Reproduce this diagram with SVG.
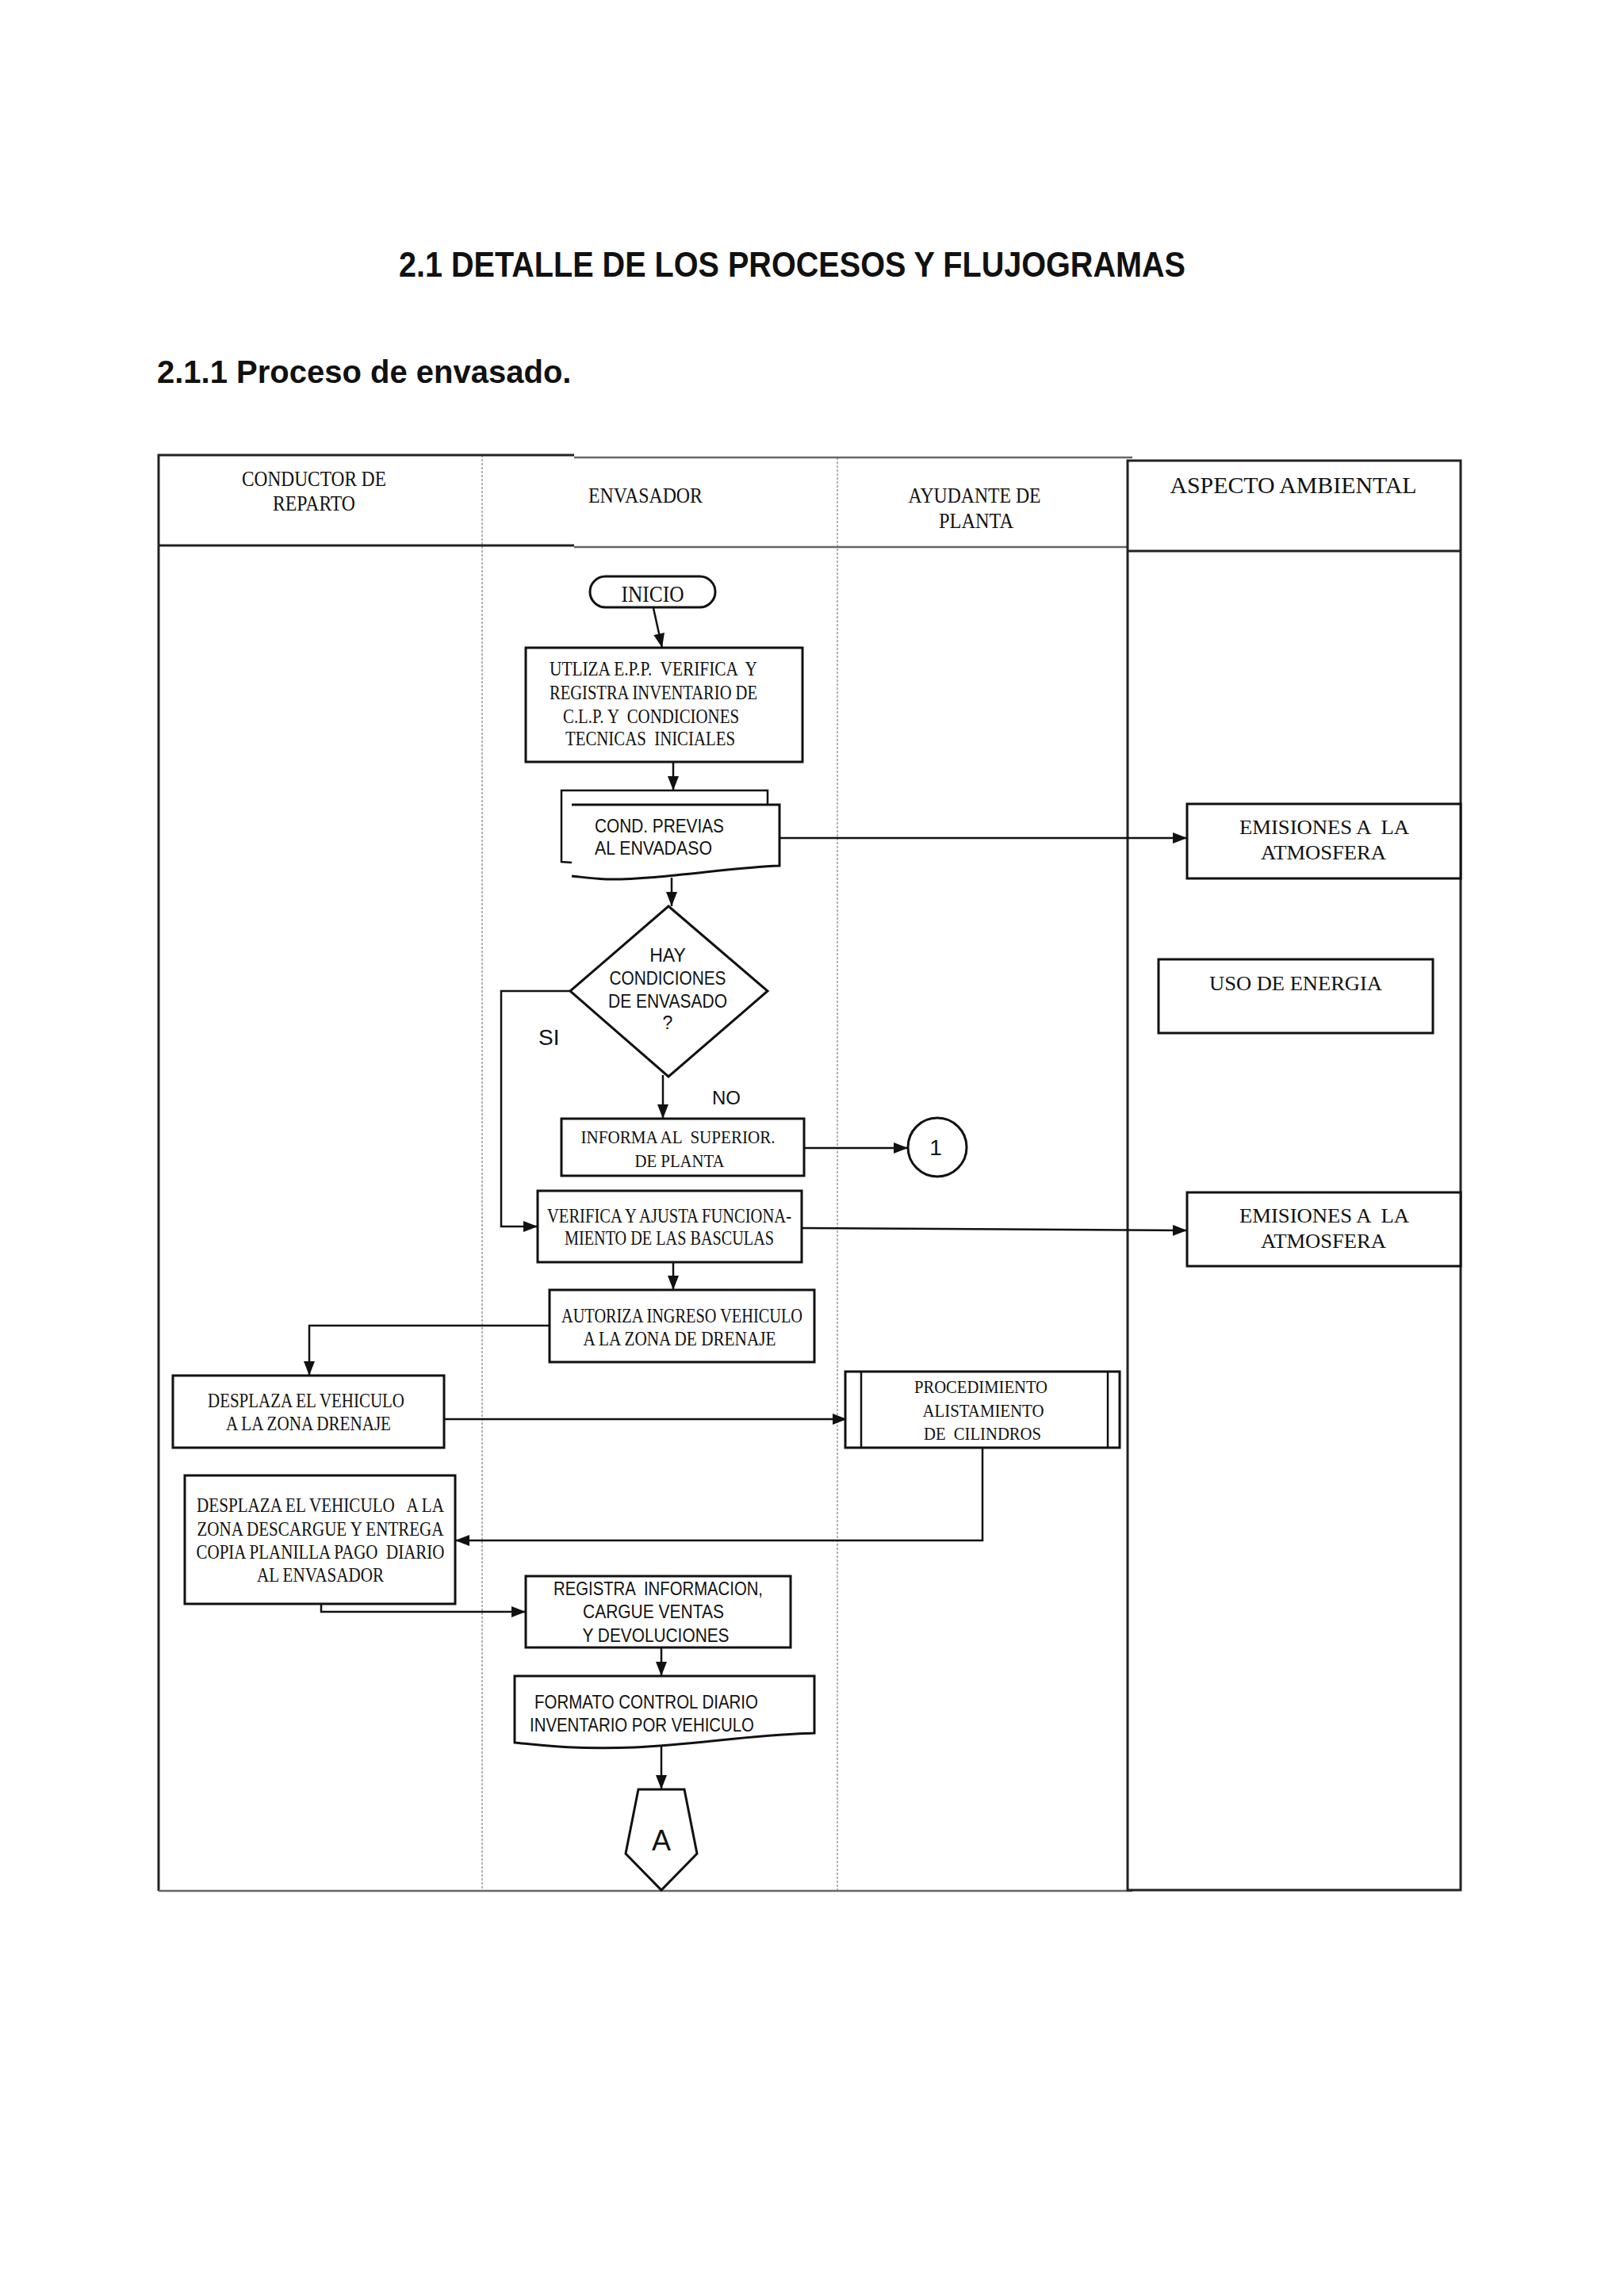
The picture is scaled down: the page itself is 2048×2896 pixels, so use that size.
<svg xmlns="http://www.w3.org/2000/svg" width="2048" height="2896" viewBox="0 0 2048 2896">
<style>
text{white-space:pre}
.bx{fill:#fff;stroke:#111;stroke-width:3}
.ln{fill:none;stroke:#111;stroke-width:2.5}
.br{fill:none;stroke:#222;stroke-width:3}
.gr{fill:none;stroke:#666;stroke-width:2.5}
.lane{stroke:#999;stroke-width:1.5;stroke-dasharray:3 2}
.s{font-family:"Liberation Serif","Times New Roman",serif;fill:#111}
.a{font-family:"Liberation Sans",Arial,sans-serif;fill:#111}
.c{text-anchor:middle}
</style>
<defs>
<marker id="ar" viewBox="0 0 18 14" refX="18" refY="7" markerWidth="18" markerHeight="14" markerUnits="userSpaceOnUse" orient="auto">
<path d="M0,0 L18,7 L0,14 z" fill="#111"/>
</marker>
</defs>
<rect width="2048" height="2896" fill="#fff"/>

<g id="titles">
<text class="a c" x="999" y="349" font-size="45" font-weight="bold" textLength="992" lengthAdjust="spacingAndGlyphs">2.1 DETALLE DE LOS PROCESOS Y FLUJOGRAMAS</text>
<text class="a" x="198" y="483" font-size="40" font-weight="bold">2.1.1 Proceso de envasado.</text>
</g>

<g id="lanes">
<line class="lane" x1="608" y1="574" x2="608" y2="2385"/>
<line class="lane" x1="1056" y1="577" x2="1056" y2="2385"/>
<path class="br" d="M200,2385 L200,574 L724,574"/>
<line class="gr" x1="724" y1="577" x2="1428" y2="577" stroke-width="2"/>
<line class="br" x1="200" y1="688" x2="724" y2="688"/>
<line class="gr" x1="724" y1="690" x2="1422" y2="690"/>
<line class="gr" x1="200" y1="2385" x2="1428" y2="2385"/>
<rect class="br" x="1422" y="581" width="420" height="1803"/>
<line class="br" x1="1422" y1="695" x2="1842" y2="695"/>
<text class="s c" x="396" y="613" font-size="27" textLength="182" lengthAdjust="spacingAndGlyphs">CONDUCTOR DE</text>
<text class="s c" x="396" y="644" font-size="27" textLength="104" lengthAdjust="spacingAndGlyphs">REPARTO</text>
<text class="s c" x="814" y="634" font-size="27" textLength="144" lengthAdjust="spacingAndGlyphs">ENVASADOR</text>
<text class="s c" x="1229" y="634" font-size="27" textLength="167" lengthAdjust="spacingAndGlyphs">AYUDANTE DE</text>
<text class="s c" x="1231" y="666" font-size="27" textLength="94" lengthAdjust="spacingAndGlyphs">PLANTA</text>
<text class="s c" x="1631" y="622" font-size="29" textLength="311" lengthAdjust="spacingAndGlyphs">ASPECTO AMBIENTAL</text>
</g>

<g id="connectors">
<line class="ln" x1="824" y1="767" x2="835" y2="817" marker-end="url(#ar)"/>
<line class="ln" x1="849" y1="961" x2="849" y2="997" marker-end="url(#ar)"/>
<line class="ln" x1="983" y1="1057" x2="1497" y2="1057" marker-end="url(#ar)"/>
<line class="ln" x1="847" y1="1107" x2="847" y2="1143" marker-end="url(#ar)"/>
<line class="ln" x1="836" y1="1356" x2="836" y2="1411" marker-end="url(#ar)"/>
<polyline class="ln" points="719,1250 632,1250 632,1547 678,1547" marker-end="url(#ar)"/>
<line class="ln" x1="1014" y1="1448" x2="1145" y2="1448" marker-end="url(#ar)"/>
<line class="ln" x1="1011" y1="1549" x2="1497" y2="1552" marker-end="url(#ar)"/>
<line class="ln" x1="849" y1="1592" x2="849" y2="1627" marker-end="url(#ar)"/>
<polyline class="ln" points="693,1672 390,1672 390,1735" marker-end="url(#ar)"/>
<line class="ln" x1="560" y1="1790" x2="1068" y2="1790" marker-end="url(#ar)"/>
<polyline class="ln" points="1239,1826 1239,1943 574,1943" marker-end="url(#ar)"/>
<polyline class="ln" points="405,2023 405,2033 663,2033" marker-end="url(#ar)"/>
<line class="ln" x1="834" y1="2078" x2="834" y2="2114" marker-end="url(#ar)"/>
<line class="ln" x1="834" y1="2203" x2="834" y2="2257" marker-end="url(#ar)"/>
<text class="a" x="679" y="1318" font-size="28">SI</text>
<text class="a" x="898" y="1393" font-size="24">NO</text>
</g>

<g id="n-inicio">
<rect class="bx" x="744" y="727" width="158" height="39" rx="19.5" stroke-width="2.5"/>
<text class="s c" x="823" y="759" font-size="30" textLength="79" lengthAdjust="spacingAndGlyphs">INICIO</text>
</g>

<g id="n-utiliza">
<rect class="bx" x="663" y="817" width="349" height="144"/>
<text class="s" x="693" y="852" font-size="25" textLength="262" lengthAdjust="spacingAndGlyphs">UTLIZA E.P.P.  VERIFICA  Y</text>
<text class="s" x="693" y="882" font-size="25" textLength="262" lengthAdjust="spacingAndGlyphs">REGISTRA INVENTARIO DE</text>
<text class="s" x="710" y="912" font-size="25" textLength="222" lengthAdjust="spacingAndGlyphs">C.L.P. Y  CONDICIONES</text>
<text class="s" x="713" y="940" font-size="25" textLength="214" lengthAdjust="spacingAndGlyphs">TECNICAS  INICIALES</text>
</g>

<g id="n-cond">
<path class="ln" d="M721,1088 L708,1087 L708,997 L968,997 L968,1015"/>
<path class="bx" d="M721,1015 L983,1015 L983,1092 C920,1094 830,1110 765,1109 C745,1108 732,1106 721,1105" stroke-width="2.5"/>
<text class="a" x="750" y="1050" font-size="24" textLength="163" lengthAdjust="spacingAndGlyphs">COND. PREVIAS</text>
<text class="a" x="750" y="1078" font-size="24" textLength="148" lengthAdjust="spacingAndGlyphs">AL ENVADASO</text>
</g>

<g id="n-hay">
<polygon class="bx" points="843,1143 968,1250 843,1358 719,1250" stroke-width="2.5"/>
<text class="a c" x="842" y="1213" font-size="23">HAY</text>
<text class="a c" x="842" y="1242" font-size="23" textLength="147" lengthAdjust="spacingAndGlyphs">CONDICIONES</text>
<text class="a c" x="842" y="1271" font-size="23" textLength="150" lengthAdjust="spacingAndGlyphs">DE ENVASADO</text>
<text class="a c" x="842" y="1298" font-size="23">?</text>
</g>

<g id="n-informa">
<rect class="bx" x="708" y="1411" width="306" height="72"/>
<text class="s c" x="855" y="1442" font-size="24" textLength="245" lengthAdjust="spacingAndGlyphs">INFORMA AL  SUPERIOR.</text>
<text class="s c" x="857" y="1472" font-size="24" textLength="113" lengthAdjust="spacingAndGlyphs">DE PLANTA</text>
</g>

<g id="n-conector1">
<circle class="bx" cx="1182" cy="1447" r="37" stroke-width="2.5"/>
<text class="a c" x="1180" y="1457" font-size="28">1</text>
</g>

<g id="n-verifica">
<rect class="bx" x="678" y="1502" width="333" height="90"/>
<text class="s c" x="844" y="1542" font-size="26" textLength="308" lengthAdjust="spacingAndGlyphs">VERIFICA Y AJUSTA FUNCIONA-</text>
<text class="s c" x="844" y="1570" font-size="26" textLength="264" lengthAdjust="spacingAndGlyphs">MIENTO DE LAS BASCULAS</text>
</g>

<g id="n-autoriza">
<rect class="bx" x="693" y="1627" width="334" height="91"/>
<text class="s c" x="860" y="1668" font-size="26" textLength="304" lengthAdjust="spacingAndGlyphs">AUTORIZA INGRESO VEHICULO</text>
<text class="s c" x="857" y="1697" font-size="26" textLength="243" lengthAdjust="spacingAndGlyphs">A LA ZONA DE DRENAJE</text>
</g>

<g id="n-desplaza1">
<rect class="bx" x="218" y="1735" width="342" height="91"/>
<text class="s c" x="386" y="1775" font-size="26" textLength="248" lengthAdjust="spacingAndGlyphs">DESPLAZA EL VEHICULO</text>
<text class="s c" x="389" y="1804" font-size="26" textLength="208" lengthAdjust="spacingAndGlyphs">A LA ZONA DRENAJE</text>
</g>

<g id="n-procedimiento">
<rect class="bx" x="1066" y="1730" width="346" height="96" stroke-width="2.5"/>
<line class="ln" x1="1086" y1="1730" x2="1086" y2="1826"/>
<line class="ln" x1="1397" y1="1730" x2="1397" y2="1826"/>
<text class="s c" x="1237" y="1757" font-size="23" textLength="168" lengthAdjust="spacingAndGlyphs">PROCEDIMIENTO</text>
<text class="s c" x="1240" y="1787" font-size="23" textLength="153" lengthAdjust="spacingAndGlyphs">ALISTAMIENTO</text>
<text class="s c" x="1239" y="1816" font-size="23" textLength="148" lengthAdjust="spacingAndGlyphs">DE  CILINDROS</text>
</g>

<g id="n-desplaza2">
<rect class="bx" x="233" y="1861" width="341" height="162"/>
<text class="s c" x="404" y="1907" font-size="26" textLength="312" lengthAdjust="spacingAndGlyphs">DESPLAZA EL VEHICULO   A LA</text>
<text class="s c" x="404" y="1937" font-size="26" textLength="311" lengthAdjust="spacingAndGlyphs">ZONA DESCARGUE Y ENTREGA</text>
<text class="s c" x="404" y="1966" font-size="26" textLength="313" lengthAdjust="spacingAndGlyphs">COPIA PLANILLA PAGO  DIARIO</text>
<text class="s c" x="404" y="1995" font-size="26" textLength="160" lengthAdjust="spacingAndGlyphs">AL ENVASADOR</text>
</g>

<g id="n-registra">
<rect class="bx" x="663" y="1988" width="334" height="90"/>
<text class="a c" x="830" y="2012" font-size="24" textLength="264" lengthAdjust="spacingAndGlyphs">REGISTRA  INFORMACION,</text>
<text class="a c" x="824" y="2041" font-size="24" textLength="178" lengthAdjust="spacingAndGlyphs">CARGUE VENTAS</text>
<text class="a c" x="827" y="2071" font-size="24" textLength="185" lengthAdjust="spacingAndGlyphs">Y DEVOLUCIONES</text>
</g>

<g id="n-formato">
<path class="bx" d="M649,2198 L649,2114 L1027,2114 L1027,2186 C950,2188 880,2200 800,2204 C720,2207 680,2201 649,2198 Z" stroke-width="2.5"/>
<text class="a" x="674" y="2155" font-size="24" textLength="282" lengthAdjust="spacingAndGlyphs">FORMATO CONTROL DIARIO</text>
<text class="a" x="668" y="2184" font-size="24" textLength="283" lengthAdjust="spacingAndGlyphs">INVENTARIO POR VEHICULO</text>
</g>

<g id="n-conectorA">
<polygon class="bx" points="805,2257 863,2257 879,2338 834,2384 789,2338" stroke-width="2.5"/>
<text class="a c" x="834" y="2334" font-size="36">A</text>
</g>

<g id="n-emisiones1">
<rect class="bx" x="1497" y="1014" width="345" height="94"/>
<text class="s c" x="1670" y="1052" font-size="26" textLength="214" lengthAdjust="spacingAndGlyphs">EMISIONES A  LA</text>
<text class="s c" x="1669" y="1084" font-size="26" textLength="158" lengthAdjust="spacingAndGlyphs">ATMOSFERA</text>
</g>

<g id="n-energia">
<rect class="bx" x="1461" y="1210" width="346" height="93"/>
<text class="s c" x="1634" y="1249" font-size="26" textLength="218" lengthAdjust="spacingAndGlyphs">USO DE ENERGIA</text>
</g>

<g id="n-emisiones2">
<rect class="bx" x="1497" y="1504" width="345" height="93"/>
<text class="s c" x="1670" y="1542" font-size="26" textLength="214" lengthAdjust="spacingAndGlyphs">EMISIONES A  LA</text>
<text class="s c" x="1669" y="1574" font-size="26" textLength="158" lengthAdjust="spacingAndGlyphs">ATMOSFERA</text>
</g>
</svg>
